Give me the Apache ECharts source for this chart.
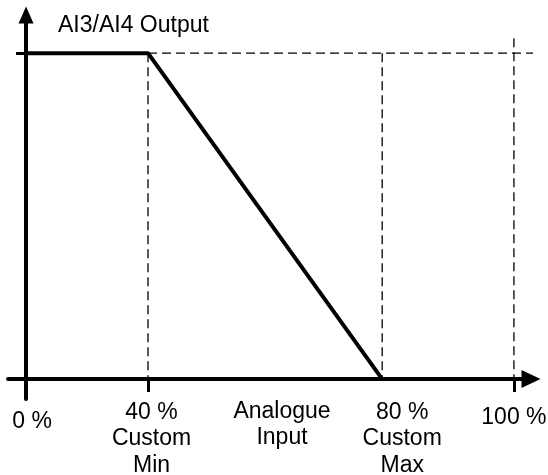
<!DOCTYPE html>
<html>
<head>
<meta charset="utf-8">
<script src="https://cdn.jsdelivr.net/npm/echarts@6/dist/echarts.min.js"></script>
<style>
  html, body { margin: 0; padding: 0; background: #fff; }
  #chart { width: 548px; height: 475px; }
</style>
</head>
<body>
<div id="chart"></div>
<script>
// ---- data ----
// positions of the marked input levels along the drawn input axis (schematic, 0..100 of axis span)
const inputTicks = [0, 25, 73, 100];
const inputTickLabels = ['0 %', '40 %\nCustom\nMin', '80 %\nCustom\nMax', '100 %'];
const tickMarks = [25, 100];
const xAxisName = 'Analogue\nInput';
const yAxisName = 'AI3/AI4 Output';
// output characteristic: full output up to Custom Min, falling to zero at Custom Max
const outputX = [0, 25, 73];
const outputY = [1, 1, 0];
// dashed guide lines
const guideHigh = [[25, 1], [104.3, 1]];
const guideMin = [[25, 1], [25, 0]];
const guideMax = [[73, 1], [73, 0]];
const guideFull = [[100, 1.046], [100, 0]];

const FONT = "'Liberation Sans', Arial, sans-serif";
const FS = 23;
const LH = 26.5;
const labelStyles = ['lo', 'mn', 'mx', 'hi'];

const chart = echarts.init(document.getElementById('chart'), null, { renderer: 'canvas' });

function dashed(data) {
  return {
    type: 'line', data: data, showSymbol: false, silent: true, z: 1,
    lineStyle: { color: '#000', width: 1.3, type: [9, 5] }
  };
}
function rs(pad) {
  return { fontFamily: FONT, fontSize: FS, lineHeight: LH, color: '#000', padding: pad };
}

chart.setOption({
  animation: false,
  backgroundColor: '#fff',
  title: {
    text: yAxisName, left: 58, top: 14, padding: 0,
    textStyle: { fontFamily: FONT, fontSize: FS, fontWeight: 'normal', color: '#000' }
  },
  grid: { left: 8, right: 17, top: 15, bottom: 76, containLabel: false, outerBoundsMode: 'none' },
  xAxis: {
    type: 'value', min: -3.7, max: 103.5,
    splitLine: { show: false },
    axisLine: { onZero: true, lineStyle: { color: '#000', width: 4 }, symbol: ['none', 'triangle'], symbolSize: [18, 19] },
    axisTick: { show: true, customValues: tickMarks, length: 13, lineStyle: { color: '#000', width: 3 } },
    axisLabel: {
      customValues: inputTicks, margin: 0, color: '#000', fontFamily: FONT, fontSize: FS, lineHeight: LH,
      formatter: function (v) {
        const i = inputTicks.indexOf(v);
        if (i < 0) return '';
        const st = labelStyles[i];
        return inputTickLabels[i].split('\n').map(function (s) { return '{' + st + '|' + s + '}'; }).join('\n');
      },
      rich: {
        lo: rs([19, 0, 0, 12]),
        mn: rs([0, 0, 0, 7]),
        mx: rs([0, 0, 0, 40]),
        hi: rs([10, 0, 0, 0])
      }
    },
    name: xAxisName, nameLocation: 'middle', nameGap: -1, nameMoveOverlap: false,
    nameTextStyle: { fontFamily: FONT, fontSize: FS, lineHeight: LH, color: '#000', padding: [0, 0, 0, 25] }
  },
  yAxis: {
    type: 'value', min: -0.061, max: 1.117,
    splitLine: { show: false },
    axisLabel: { show: false },
    axisLine: { onZero: true, lineStyle: { color: '#000', width: 4 }, symbol: ['none', 'triangle'], symbolSize: [15, 17] },
    axisTick: { show: true, customValues: [1], length: 10, lineStyle: { color: '#000', width: 3 } }
  },
  series: [
    dashed(guideHigh),
    dashed(guideMin),
    dashed(guideMax),
    dashed(guideFull),
    {
      type: 'line', showSymbol: false, silent: true, z: 5,
      data: outputX.map(function (x, i) { return [x, outputY[i]]; }),
      lineStyle: { color: '#000', width: 4 }
    }
  ]
});
</script>
</body>
</html>
